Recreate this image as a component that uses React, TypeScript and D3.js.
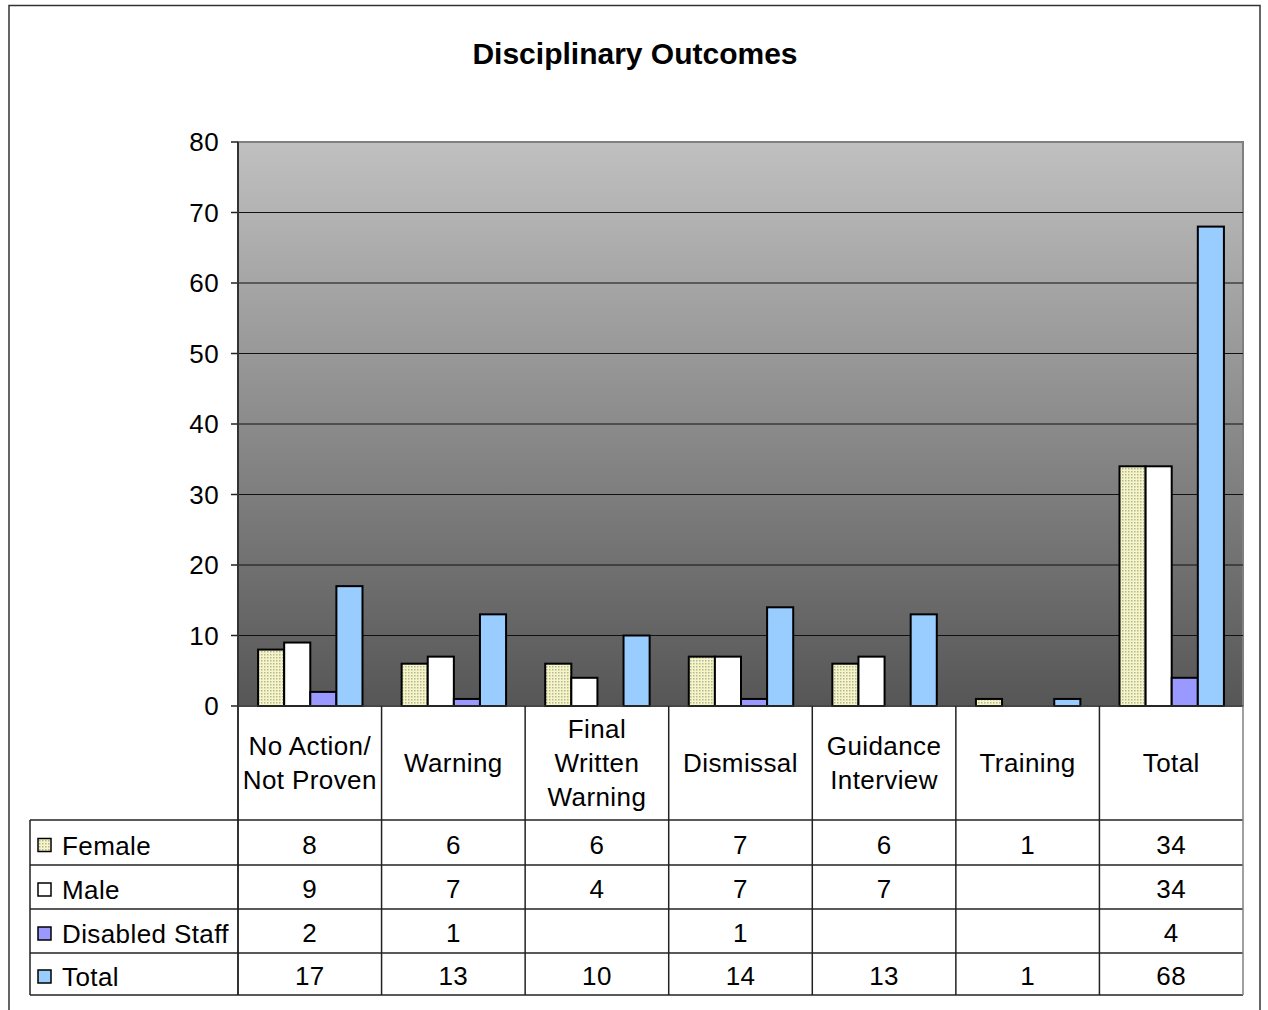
import React from "react";
import * as d3 from "d3";

const categories: string[][] = [
  ["No Action/", "Not Proven"],
  ["Warning"],
  ["Final", "Written", "Warning"],
  ["Dismissal"],
  ["Guidance", "Interview"],
  ["Training"],
  ["Total"],
];
const seriesNames = ["Female", "Male", "Disabled Staff", "Total"];
const female: (number | null)[] = [8, 6, 6, 7, 6, 1, 34];
const male: (number | null)[] = [9, 7, 4, 7, 7, null, 34];
const disabled: (number | null)[] = [2, 1, null, 1, null, null, 4];
const total: (number | null)[] = [17, 13, 10, 14, 13, 1, 68];
const yTicks = [0, 10, 20, 30, 40, 50, 60, 70, 80];

const seriesData = [female, male, disabled, total];
const seriesFill = ["url(#femalePat)", "#ffffff", "#9999ff", "#99ccff"];

const FONT = "'Liberation Sans', Arial, sans-serif";

export default function App() {
  const W = 1268, H = 1010;
  const plotL = 238, plotR = 1243, plotT = 142, plotB = 706;
  const tableL = 30;
  const rows = [820, 865, 909, 953, 995];
  const LS = 0.4;

  const x = d3.scaleBand<number>().domain(d3.range(categories.length)).range([plotL, plotR]).paddingInner(0).paddingOuter(0);
  const y = d3.scaleLinear().domain([0, 80]).range([plotB, plotT]);
  const bw = x.bandwidth();
  // gap width 150%: 4w + 1.5w = bw
  const barW = bw / 5.5;
  const gOff = barW * 0.75 + 0.5;

  return (
    <svg width={W} height={H} style={{ position: "absolute", left: 0, top: 0 }} fontFamily={FONT}>
      <defs>
        <linearGradient id="bgGrad" x1="0" y1="0" x2="0" y2="1">
          <stop offset="0%" stopColor="#c0c0c0" />
          <stop offset="100%" stopColor="#565656" />
        </linearGradient>
        <pattern id="femalePat" width="3" height="3" patternUnits="userSpaceOnUse">
          <rect width="3" height="3" fill="#f6f6c4" />
          <rect x="0" y="0" width="1.5" height="1.5" fill="#b4b4a4" />
        </pattern>
      </defs>
      <rect x={0} y={0} width={W} height={H} fill="#ffffff" />
      <rect x={9} y={5.5} width={1251} height={1020} fill="none" stroke="#333" strokeWidth={1.5} />
      <text x={635} y={64} textAnchor="middle" fontSize={30} fontWeight="bold">Disciplinary Outcomes</text>

      <rect x={plotL} y={plotT} width={plotR - plotL} height={plotB - plotT} fill="url(#bgGrad)" stroke="#808080" strokeWidth={2} />
      {yTicks.map((t) => (
        <g key={t}>
          {t > 0 && t < 80 && <line x1={plotL} x2={plotR} y1={y(t)} y2={y(t)} stroke="#111" strokeWidth={1} />}
          <line x1={plotL - 7} x2={plotL} y1={y(t)} y2={y(t)} stroke="#222" strokeWidth={1.5} />
          <text x={219} y={y(t)} dy="0.36em" textAnchor="end" fontSize={26} letterSpacing={LS}>{t}</text>
        </g>
      ))}
      {seriesData.map((s, si) =>
        s.map((v, ci) =>
          v == null ? null : (
            <rect
              key={`${si}-${ci}`}
              x={(x(ci) as number) + gOff + si * barW}
              y={y(v)}
              width={barW}
              height={y(0) - y(v)}
              fill={seriesFill[si]}
              stroke="#000"
              strokeWidth={2}
            />
          )
        )
      )}
      <line x1={plotL} x2={plotL} y1={plotT} y2={rows[4]} stroke="#333" strokeWidth={2} />
      <line x1={plotL} x2={plotR} y1={plotB} y2={plotB} stroke="#333" strokeWidth={1.5} />

      {/* table */}
      {rows.map((ry, i) => (
        <line key={i} x1={tableL} x2={plotR} y1={ry} y2={ry} stroke="#222" strokeWidth={1.5} />
      ))}
      <line x1={tableL} x2={tableL} y1={rows[0]} y2={rows[4]} stroke="#222" strokeWidth={1.5} />
      {categories.map((c, ci) => (
        <line key={ci} x1={(x(ci) as number) + bw} x2={(x(ci) as number) + bw} y1={plotB} y2={rows[4]} stroke={ci === categories.length - 1 ? "#808080" : "#222"} strokeWidth={1.5} />
      ))}
      {categories.map((lines, ci) => {
        const cx = (x(ci) as number) + bw / 2;
        const cy = (plotB + rows[0]) / 2;
        const lh = 34;
        return (
          <text key={ci} x={cx} textAnchor="middle" fontSize={26} letterSpacing={LS}>
            {lines.map((ln, li) => (
              <tspan key={li} x={cx} y={cy + (li - (lines.length - 1) / 2) * lh} dy="0.36em">{ln}</tspan>
            ))}
          </text>
        );
      })}
      {seriesNames.map((name, si) => {
        const cy = (rows[si] + rows[si + 1]) / 2 + 3;
        return (
          <g key={name}>
            <rect x={38} y={cy - 7} width={13} height={13} fill={seriesFill[si]} stroke="#000" strokeWidth={1.5} />
            <text x={62} y={cy} dy="0.36em" fontSize={26} letterSpacing={LS}>{name}</text>
            {seriesData[si].map((v, ci) =>
              v == null ? null : (
                <text key={ci} x={(x(ci) as number) + bw / 2} y={cy - 1} dy="0.36em" textAnchor="middle" fontSize={26} letterSpacing={LS}>{v}</text>
              )
            )}
          </g>
        );
      })}
    </svg>
  );
}
